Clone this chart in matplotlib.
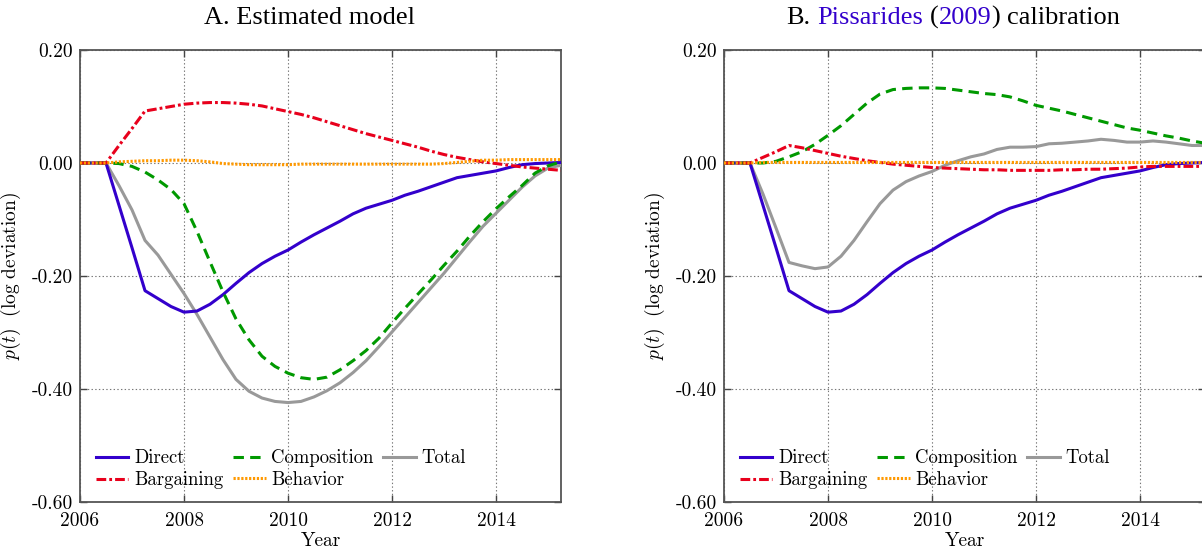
import numpy as np
import matplotlib
matplotlib.use("Agg")
import matplotlib.pyplot as plt
from matplotlib.offsetbox import TextArea, HPacker, AnnotationBbox

plt.rcParams["font.family"] = "serif"
plt.rcParams["font.serif"] = ["cmr10"]
plt.rcParams["mathtext.fontset"] = "cm"
plt.rcParams["axes.unicode_minus"] = False
plt.rcParams["lines.scale_dashes"] = False

# quarterly, 2006Q1 .. 2015Q2
years = np.arange(38) * 0.25 + 2006.0

direct = [0, 0, 0, -0.075, -0.150, -0.226, -0.240, -0.254,
          -0.264, -0.262, -0.250, -0.233, -0.213, -0.194, -0.178, -0.165,
          -0.154, -0.140, -0.127, -0.115, -0.103, -0.090, -0.080, -0.073,
          -0.066, -0.057, -0.050, -0.042, -0.034, -0.026, -0.022, -0.018,
          -0.014, -0.008, -0.003, -0.001, 0.000, 0.001]

# panel A: estimated model
bargaining_a = [0, 0, 0, 0.031, 0.061, 0.092, 0.096, 0.100,
                0.104, 0.106, 0.107, 0.107, 0.106, 0.104, 0.101, 0.096,
                0.091, 0.086, 0.080, 0.073, 0.066, 0.059, 0.052, 0.046,
                0.040, 0.034, 0.028, 0.021, 0.015, 0.010, 0.006, 0.002,
                -0.001, -0.004, -0.007, -0.009, -0.011, -0.013]
composition_a = [0, 0, 0, -0.001, -0.006, -0.016, -0.030, -0.047,
                 -0.072, -0.121, -0.175, -0.228, -0.276, -0.313, -0.342, -0.360,
                 -0.372, -0.380, -0.383, -0.379, -0.366, -0.350, -0.332, -0.310,
                 -0.283, -0.257, -0.232, -0.207, -0.181, -0.156, -0.129, -0.104,
                 -0.081, -0.060, -0.040, -0.018, -0.005, 0.002]
behavior_a = [0, 0, 0, 0.002, 0.003, 0.004, 0.004, 0.005,
              0.005, 0.004, 0.002, -0.001, -0.002, -0.003, -0.003, -0.003,
              -0.003, -0.002, -0.002, -0.002, -0.002, -0.002, -0.002, -0.002,
              -0.002, -0.002, -0.002, -0.002, -0.001, 0.001, 0.003, 0.005,
              0.005, 0.006, 0.006, 0.006, 0.006, 0.006]
total_a = [0, 0, 0, -0.040, -0.083, -0.137, -0.163, -0.197,
           -0.231, -0.268, -0.308, -0.348, -0.383, -0.404, -0.416, -0.422,
           -0.424, -0.422, -0.414, -0.403, -0.389, -0.371, -0.350, -0.325,
           -0.299, -0.273, -0.247, -0.221, -0.195, -0.167, -0.139, -0.112,
           -0.089, -0.066, -0.043, -0.023, -0.009, -0.004]

# panel B: Pissarides (2009) calibration
bargaining_b = [0, 0, 0, 0.010, 0.020, 0.031, 0.027, 0.022,
                0.017, 0.012, 0.008, 0.004, 0.001, -0.002, -0.004, -0.006,
                -0.008, -0.009, -0.010, -0.011, -0.012, -0.012, -0.013, -0.013,
                -0.013, -0.013, -0.012, -0.012, -0.011, -0.011, -0.010, -0.009,
                -0.007, -0.006, -0.006, -0.006, -0.006, -0.006]
composition_b = [0, 0, 0, 0.000, 0.003, 0.011, 0.020, 0.033,
                 0.049, 0.066, 0.086, 0.106, 0.122, 0.130, 0.132, 0.133,
                 0.133, 0.132, 0.129, 0.126, 0.123, 0.121, 0.117, 0.110,
                 0.102, 0.097, 0.092, 0.086, 0.080, 0.074, 0.068, 0.062,
                 0.058, 0.053, 0.048, 0.044, 0.039, 0.035]
behavior_b = [0, 0, 0, 0.001, 0.001, 0.001, 0.001, 0.001,
              0.001, 0.001, 0.001, 0.001, 0.001, 0.001, 0.001, 0.001,
              0.001, 0.001, 0.001, 0.001, 0.001, 0.001, 0.001, 0.001,
              0.001, 0.001, 0.001, 0.001, 0.001, 0.001, 0.001, 0.001,
              0.001, 0.001, 0.001, 0.001, 0.001, 0.001]
total_b = [0, 0, 0, -0.055, -0.115, -0.176, -0.182, -0.187,
           -0.184, -0.165, -0.137, -0.104, -0.072, -0.048, -0.033, -0.023,
           -0.015, -0.004, 0.004, 0.011, 0.016, 0.024, 0.028, 0.028,
           0.029, 0.034, 0.035, 0.037, 0.039, 0.042, 0.040, 0.037,
           0.037, 0.039, 0.037, 0.034, 0.031, 0.031]

xticks = [2006, 2008, 2010, 2012, 2014]
yticks = [0.2, 0.0, -0.2, -0.4, -0.6]

BLUE, RED, GREEN, GRAY, ORANGE = "#3300CC", "#E8001C", "#009900", "#999999", "#FF9900"
LW = 2.2
FS = 14

fig = plt.figure(figsize=(12.02, 5.56), dpi=100)
W, H = 1202, 556
ax_a = fig.add_axes([80 / W, 54 / H, 481 / W, 452 / H])
ax_b = fig.add_axes([724 / W, 54 / H, 481 / W, 452 / H])


def draw_panel(ax, bargaining, composition, behavior, total):
    ax.plot(years, total, color=GRAY, lw=LW, label="Total", zorder=3)
    ax.plot(years, direct, color=BLUE, lw=LW, label="Direct", zorder=4)
    ax.plot(years, composition, color=GREEN, lw=LW, ls=(0, (7.5, 4.5)),
            label="Composition", zorder=5)
    ax.plot(years, bargaining, color=RED, lw=LW, ls=(0, (7.0, 2.2, 2.0, 2.2)),
            label="Bargaining", zorder=5)
    ax.plot(years, behavior, color=ORANGE, lw=LW, ls=(0, (1.6, 1.2)),
            label="Behavior", zorder=6)

    ax.set_xlim(2006, 2015.25)
    ax.set_ylim(-0.6, 0.2)
    ax.set_xticks(xticks)
    ax.set_xticklabels([str(t) for t in xticks])
    ax.set_yticks(yticks)
    ax.set_yticklabels([f"{v:.2f}" for v in yticks])
    ax.grid(True, ls=":", color="#777777", lw=0.8)
    ax.tick_params(direction="in", length=5, width=1.0, color="#444444",
                   top=True, right=True, labelsize=FS)
    ax.tick_params(axis="x", pad=7)
    ax.tick_params(axis="y", pad=5)
    for s in ax.spines.values():
        s.set_color("#555555")
        s.set_linewidth(1.3)
    ax.set_xlabel("Year", fontsize=FS, labelpad=2)
    ax.set_ylabel(r"$p(t)\ \ \mathrm{(log\ deviation)}$", fontsize=FS, labelpad=6)

    h, l = ax.get_legend_handles_labels()
    order = ["Direct", "Bargaining", "Composition", "Behavior", "Total"]
    hs = [h[l.index(k)] for k in order]
    ax.legend(hs, order, ncol=3, loc="lower left", bbox_to_anchor=(0.017, 0.012),
              borderaxespad=0, frameon=False, fontsize=13.5, handlelength=1.75,
              handletextpad=0.3, columnspacing=0.5, labelspacing=0.2)


draw_panel(ax_a, bargaining_a, composition_a, behavior_a, total_a)
draw_panel(ax_b, bargaining_b, composition_b, behavior_b, total_b)

# titles
title_font = dict(family="Liberation Serif", size=19)
fig.text(309 / W, 1 - 24 / H, "A. Estimated model", ha="center", va="baseline",
         **title_font)

LINK = "#3300CC"
def ta(s, c="black"):
    return TextArea(s, textprops=dict(color=c, **title_font))

space = 5
paren = HPacker(children=[ta("("), ta("2009", LINK), ta(")")], sep=0, pad=0,
                align="baseline")
title_b = HPacker(children=[ta("B."), ta("Pissarides", LINK), paren, ta("calibration")],
                  sep=space, pad=0, align="baseline")
ab = AnnotationBbox(title_b, (953 / W, 1 - 24 / H), xycoords="figure fraction",
                    box_alignment=(0.5, 0.22), frameon=False, pad=0)
fig.add_artist(ab)

fig.savefig("out.png", dpi=100)
